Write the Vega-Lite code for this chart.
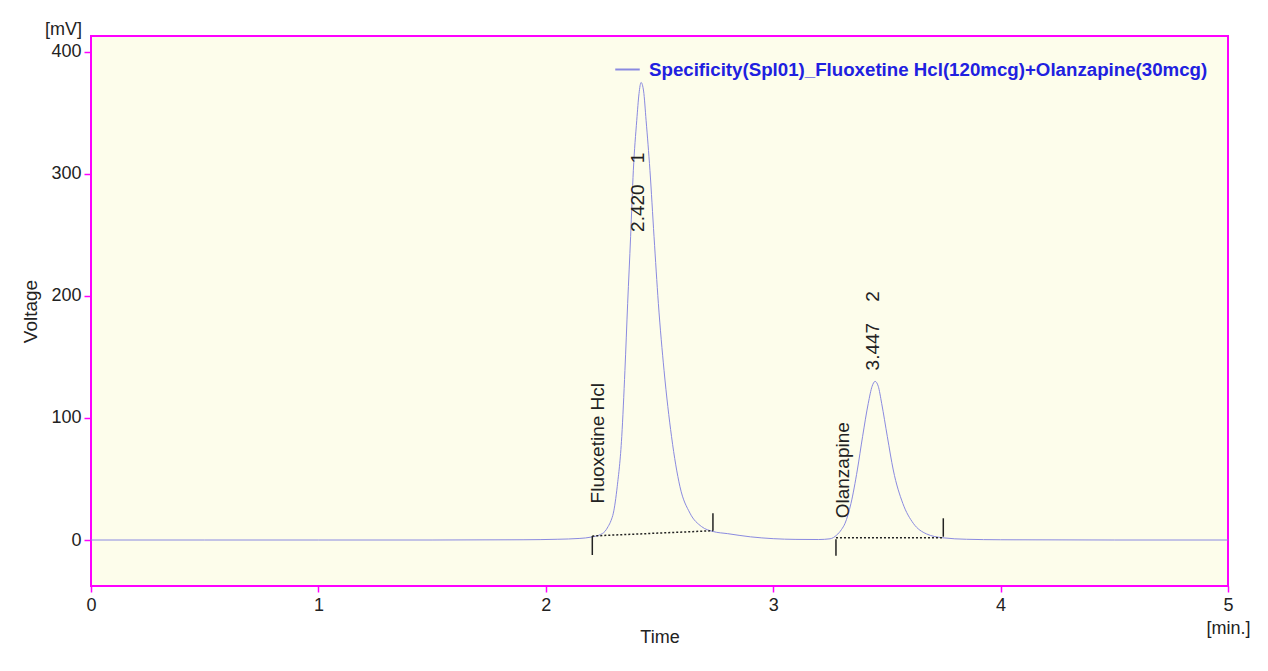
{
  "$schema": "https://vega.github.io/schema/vega-lite/v6.json",
  "width": 1137,
  "height": 550,
  "autosize": "none",
  "padding": {"left": 91, "top": 36, "right": 40, "bottom": 85},
  "background": "white",
  "config": {
    "font": "Liberation Sans",
    "view": {"fill": "#fdfdeb", "stroke": "#ff00ff", "strokeWidth": 2},
    "axis": {
      "grid": false,
      "domain": false,
      "tickColor": "#ff00ff",
      "tickWidth": 1.5,
      "labelFont": "Liberation Sans",
      "labelFontSize": 18,
      "labelColor": "#222222",
      "titleFont": "Liberation Sans",
      "titleFontSize": 18,
      "titleFontWeight": "normal",
      "titleColor": "#222222"
    }
  },
  "title": {
    "text": "[mV]",
    "anchor": "start",
    "frame": "group",
    "align": "right",
    "dx": -9,
    "offset": -3,
    "fontSize": 18,
    "fontWeight": "normal",
    "color": "#222222",
    "font": "Liberation Sans"
  },
  "datasets": {
    "trace": [
      {"t": 0, "v": 0}, {"t": 0.5, "v": 0}, {"t": 1, "v": 0}, {"t": 1.5, "v": 0},
      {"t": 1.9, "v": 0.2}, {"t": 2.05, "v": 0.6}, {"t": 2.15, "v": 1.3}, {"t": 2.2, "v": 2.4},
      {"t": 2.24, "v": 4.5}, {"t": 2.26, "v": 7}, {"t": 2.274, "v": 11}, {"t": 2.287, "v": 16},
      {"t": 2.297, "v": 22}, {"t": 2.314, "v": 43.7}, {"t": 2.334, "v": 84.7}, {"t": 2.348, "v": 139},
      {"t": 2.36, "v": 194}, {"t": 2.373, "v": 248.6}, {"t": 2.385, "v": 303}, {"t": 2.4, "v": 344},
      {"t": 2.41, "v": 366}, {"t": 2.419, "v": 375}, {"t": 2.43, "v": 368}, {"t": 2.441, "v": 344},
      {"t": 2.458, "v": 303}, {"t": 2.476, "v": 248.6}, {"t": 2.495, "v": 194}, {"t": 2.52, "v": 139},
      {"t": 2.553, "v": 84.7}, {"t": 2.59, "v": 43.7}, {"t": 2.634, "v": 22}, {"t": 2.685, "v": 11},
      {"t": 2.735, "v": 7}, {"t": 2.8, "v": 5.2}, {"t": 2.9, "v": 2.6}, {"t": 3.0, "v": 1.1},
      {"t": 3.1, "v": 0.5}, {"t": 3.2, "v": 0.4}, {"t": 3.25, "v": 1}, {"t": 3.279, "v": 4},
      {"t": 3.3, "v": 8.5}, {"t": 3.316, "v": 13.7}, {"t": 3.342, "v": 30}, {"t": 3.37, "v": 57.4},
      {"t": 3.393, "v": 84.7}, {"t": 3.418, "v": 112}, {"t": 3.435, "v": 126}, {"t": 3.448, "v": 130},
      {"t": 3.462, "v": 126}, {"t": 3.477, "v": 112}, {"t": 3.502, "v": 84.7}, {"t": 3.528, "v": 57.4},
      {"t": 3.57, "v": 30}, {"t": 3.616, "v": 13.7}, {"t": 3.674, "v": 5}, {"t": 3.747, "v": 1.8},
      {"t": 3.85, "v": 0.6}, {"t": 4.0, "v": 0.2}, {"t": 4.5, "v": 0}, {"t": 5, "v": 0}
    ],
    "integ": [
      {"t": 2.2045, "v": 3.3, "t2": 2.735, "v2": 7.6},
      {"t": 3.276, "v": 1.9, "t2": 3.748, "v2": 1.9}
    ],
    "ticks": [
      {"t": 2.2045, "v": 3.3, "v2": -12.3},
      {"t": 2.735, "v": 7.6, "v2": 22},
      {"t": 3.276, "v": 0.6, "v2": -13},
      {"t": 3.748, "v": 2.7, "v2": 17.8}
    ],
    "labels": [
      {"t": 2.23, "v": 30, "label": "Fluoxetine Hcl"},
      {"t": 3.307, "v": 17.8, "label": "Olanzapine"},
      {"t": 2.405, "v": 252.5, "label": "2.420\u00a0\u00a0\u00a0\u00a01"},
      {"t": 3.437, "v": 139, "label": "3.447\u00a0\u00a0\u00a0\u00a02"}
    ]
  },
  "encoding": {
    "x": {
      "field": "t",
      "type": "quantitative",
      "scale": {"domain": [0, 5], "nice": false},
      "axis": {
        "values": [0, 1, 2, 3, 4, 5],
        "tickSize": 6,
        "labelPadding": 4,
        "title": "Time",
        "titleY": 42,
        "titleBaseline": "top",
        "labelExpr": "datum.value == 5 ? ['5', '[min.]'] : datum.label",
        "labelLineHeight": 23,
        "labelFlush": false,
        "labelOverlap": false,
        "labelBound": false
      }
    },
    "y": {
      "field": "v",
      "type": "quantitative",
      "scale": {"domain": [-37.7, 413.1], "nice": false, "zero": false},
      "axis": {
        "values": [0, 100, 200, 300, 400],
        "tickSize": 7,
        "labelPadding": 3,
        "title": "Voltage",
        "titleX": -61,
        "titleBaseline": "middle",
        "titleFontSize": 19
      }
    }
  },
  "layer": [
    {
      "data": {"name": "trace"},
      "mark": {"type": "line", "interpolate": "monotone", "strokeWidth": 1},
      "encoding": {
        "color": {
          "datum": "Specificity(Spl01)_Fluoxetine Hcl(120mcg)+Olanzapine(30mcg)",
          "type": "nominal",
          "scale": {"range": ["#8a8ae0"]},
          "legend": {
            "title": null,
            "orient": "top-right",
            "offset": 20,
            "padding": 0,
            "labelFontSize": 18.7,
            "labelFontWeight": "bold",
            "labelColor": "#2020e0",
            "labelLimit": 0,
            "symbolType": "stroke",
            "symbolSize": 600,
            "symbolStrokeWidth": 2,
            "labelOffset": 8,
            "encode": {"symbols": {"update": {"stroke": {"value": "#2020e0"}, "strokeWidth": {"value": 2}}}}
          }
        }
      }
    },
    {
      "data": {"name": "integ"},
      "mark": {"type": "rule", "color": "#222222", "strokeWidth": 1.5, "strokeDash": [2, 2]},
      "encoding": {
        "x2": {"field": "t2"},
        "y2": {"field": "v2"}
      }
    },
    {
      "data": {"name": "ticks"},
      "mark": {"type": "rule", "color": "#222222", "strokeWidth": 1.5},
      "encoding": {
        "y2": {"field": "v2"}
      }
    },
    {
      "data": {"name": "labels"},
      "mark": {"type": "text", "angle": 270, "align": "left", "baseline": "middle", "fontSize": 19, "color": "#222222", "font": "Liberation Sans"},
      "encoding": {
        "text": {"field": "label"}
      }
    }
  ]
}
